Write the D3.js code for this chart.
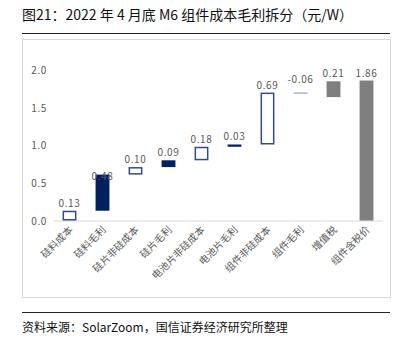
<!DOCTYPE html>
<html>
<head>
<meta charset="utf-8">
<script src="https://cdn.jsdelivr.net/npm/d3@7/dist/d3.min.js"></script>
<style>
  body { margin: 0; background: #fff; }
  text { font-family: "Noto Sans CJK SC", "Noto Sans", sans-serif; }
</style>
</head>
<body>
<script>
// data
var categories = ["硅料成本", "硅料毛利", "硅片非硅成本", "硅片毛利", "电池片非硅成本",
                  "电池片毛利", "组件非硅成本", "组件毛利", "增值税", "组件含税价"];
var values = [0.13, 0.48, 0.10, 0.09, 0.18, 0.03, 0.69, -0.06, 0.21, 1.86];
// kind: cost = hollow, margin = navy, tax = gray, total = gray from zero
var kinds = ["cost", "margin", "cost", "margin", "cost", "margin", "cost", "margin", "tax", "total"];
var yTicks = [0, 0.5, 1.0, 1.5, 2.0];

var W = 403, H = 347;
var svg = d3.select("body").append("svg")
    .attr("width", W)
    .attr("height", H);

// title
svg.append("text")
    .attr("x", 22)
    .attr("y", 20)
    .attr("font-size", 14)
    .attr("fill", "#111")
    .text("图21：2022 年 4 月底 M6 组件成本毛利拆分（元/W）");

svg.append("line")
    .attr("x1", 22).attr("x2", 390)
    .attr("y1", 33.5).attr("y2", 33.5)
    .attr("stroke", "#222").attr("stroke-width", 1);

// chart box
svg.append("rect")
    .attr("x", 22.5).attr("y", 39.5)
    .attr("width", 368).attr("height", 258)
    .attr("fill", "none")
    .attr("stroke", "#d9d9d9");

// source
svg.append("line")
    .attr("x1", 22).attr("x2", 390)
    .attr("y1", 312.5).attr("y2", 312.5)
    .attr("stroke", "#222").attr("stroke-width", 1);

svg.append("text")
    .attr("x", 22)
    .attr("y", 332)
    .attr("font-size", 12)
    .attr("fill", "#111")
    .text("资料来源：SolarZoom，国信证券经济研究所整理");

// scales
var x = d3.scaleBand()
    .domain(categories)
    .range([53, 383])
    .paddingInner(0.58)
    .paddingOuter(0.29);

var y = d3.scaleLinear()
    .domain([0, 2.0])
    .range([220.5, 70]);

// y axis labels
svg.selectAll(".ytick")
    .data(yTicks)
  .enter().append("text")
    .attr("class", "ytick")
    .attr("x", 47)
    .attr("y", function(d) { return y(d) + 4; })
    .attr("text-anchor", "end")
    .attr("font-size", 10)
    .attr("letter-spacing", 0.6)
    .attr("fill", "#595959")
    .text(function(d) { return d.toFixed(1); });

// waterfall positions
var cum = 0;
var bars = categories.map(function(c, i) {
  var v = values[i], lo, hi;
  if (kinds[i] == "total") {
    lo = 0; hi = v;
  } else if (v < 0) {
    hi = cum; lo = cum + v; cum = lo;
  } else {
    lo = cum; hi = cum + v; cum = hi;
  }
  return {cat: c, v: v, kind: kinds[i], lo: lo, hi: hi};
});

// baseline
svg.append("line")
    .attr("x1", 53).attr("x2", 383)
    .attr("y1", y(0) + 0.5).attr("y2", y(0) + 0.5)
    .attr("stroke", "#d9d9d9").attr("stroke-width", 1);

var posBars = bars.filter(function(d) { return d.v >= 0; });
var negBars = bars.filter(function(d) { return d.v < 0; });

svg.selectAll(".bar")
    .data(posBars)
  .enter().append("rect")
    .attr("class", "bar")
    .attr("x", function(d) { return x(d.cat) + (d.kind == "cost" ? 0.75 : 0); })
    .attr("y", function(d) { return y(d.hi) + (d.kind == "cost" ? 0.75 : 0); })
    .attr("width", function(d) { return x.bandwidth() - (d.kind == "cost" ? 1.5 : 0); })
    .attr("height", function(d) {
      var h = y(d.lo) - y(d.hi) - (d.kind == "cost" ? 1.5 : 0);
      return Math.max(h, 1.5);
    })
    .attr("fill", function(d) {
      if (d.kind == "cost") return "#fff";
      if (d.kind == "margin") return "#002060";
      return "#7f7f7f";
    })
    .attr("stroke", function(d) { return d.kind == "cost" ? "#2f4d8a" : "none"; })
    .attr("stroke-width", 1.5);

// negative margin shown as a thin line
svg.selectAll(".neg")
    .data(negBars)
  .enter().append("line")
    .attr("class", "neg")
    .attr("x1", function(d) { return x(d.cat); })
    .attr("x2", function(d) { return x(d.cat) + x.bandwidth(); })
    .attr("y1", function(d) { return y(d.hi) + 0.5; })
    .attr("y2", function(d) { return y(d.hi) + 0.5; })
    .attr("stroke", "#7f8fb8")
    .attr("stroke-width", 1);

// value labels
svg.selectAll(".vlabel")
    .data(bars)
  .enter().append("text")
    .attr("class", "vlabel")
    .attr("x", function(d) { return x(d.cat) + x.bandwidth() / 2; })
    .attr("y", function(d) {
      var top = d.v < 0 ? y(d.hi) - 10 : y(d.hi) - 4;
      return d.cat == "硅料毛利" ? top + 9 : top;
    })
    .attr("text-anchor", "middle")
    .attr("font-size", 10)
    .attr("letter-spacing", 0.6)
    .attr("fill", "#595959")
    .text(function(d) { return d.v.toFixed(2); });

// x labels
svg.selectAll(".xlabel")
    .data(categories)
  .enter().append("text")
    .attr("class", "xlabel")
    .attr("transform", function(d) {
      return "translate(" + (x(d) + x.bandwidth() / 2 + 4) + "," + (y(0) + 10) + ") rotate(-45)";
    })
    .attr("text-anchor", "end")
    .attr("font-size", 10)
    .attr("fill", "#595959")
    .text(function(d) { return d; });
</script>
</body>
</html>
